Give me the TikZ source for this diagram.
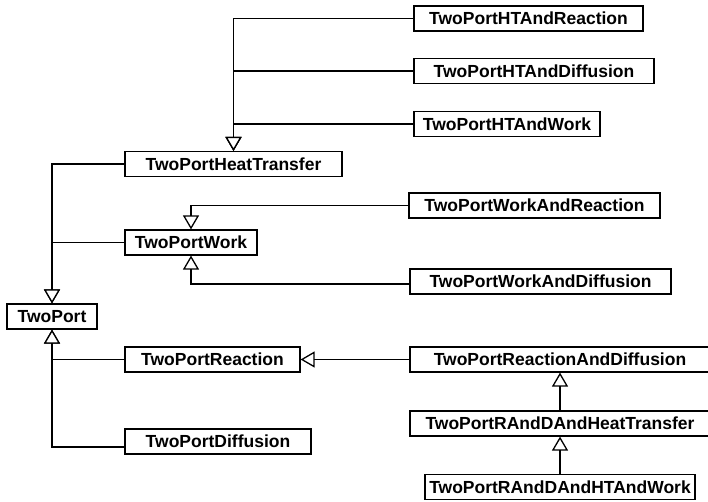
\documentclass[tikz,border=0pt]{standalone}
\usepackage{fontspec}
\setmainfont{Liberation Sans}
\usetikzlibrary{arrows.meta}

\begin{document}
\begin{tikzpicture}[x=1pt, y=-1pt,
		cls/.style={draw, line width=1.2pt, minimum height=25pt, inner sep=0pt,
			font=\bfseries\fontsize{17.5}{20}\selectfont},
		inh/.style={line width=1.3pt, -{Triangle[open, length=14pt, width=16pt, fill=white]}}]

		% page frame (pixels of the reference)
		\useasboundingbox (0,0) rectangle (708,502);

		% Classes at explicit coordinates
		\node[cls, minimum width=229pt] (HTReact)   at (528.5, 18.5) {TwoPortHTAndReaction};
		\node[cls, minimum width=240pt] (HTDiff)    at (534, 71)     {TwoPortHTAndDiffusion};
		\node[cls, minimum width=186pt] (HTWork)    at (507, 124)    {TwoPortHTAndWork};
		\node[cls, minimum width=217pt] (HeatTr)    at (233.5, 164)  {TwoPortHeatTransfer};
		\node[cls, minimum width=251pt] (WorkReact) at (534.5, 205.5) {TwoPortWorkAndReaction};
		\node[cls, minimum width=132pt] (Work)      at (191, 242.5)  {TwoPortWork};
		\node[cls, minimum width=261pt] (WorkDiff)  at (540.5, 281.5) {TwoPortWorkAndDiffusion};
		\node[cls, minimum width=90pt]  (TwoPort)   at (52, 316.5)   {TwoPort};
		\node[cls, minimum width=175pt] (Reaction)  at (212.5, 359.5) {TwoPortReaction};
		\node[cls, minimum width=300pt] (ReactDiff) at (560, 359.5)  {TwoPortReactionAndDiffusion};
		\node[cls, minimum width=300pt] (RDHeat)    at (560, 423.5)  {TwoPortRAndDAndHeatTransfer};
		\node[cls, minimum width=270pt] (RDHTWork)  at (560, 487)    {TwoPortRAndDAndHTAndWork};
		\node[cls, minimum width=186pt] (Diffusion) at (218, 441.5)  {TwoPortDiffusion};

		% Inheritance into TwoPortHeatTransfer
		\draw[inh] (HTReact.west) -| (HeatTr.north);
		\draw[inh] (HTDiff.west) -| (HeatTr.north);
		\draw[inh] (HTWork.west) -| (HeatTr.north);

		% Inheritance into TwoPortWork
		\draw[inh] (WorkReact.west) -| (Work.north);
		\draw[inh] ([yshift=-2.5pt]WorkDiff.west) -| (Work.south);

		% Inheritance into TwoPort
		\draw[inh] (HeatTr.west) -| (TwoPort.north);
		\draw[inh] (Work.west) -| (TwoPort.north);
		\draw[inh] (Reaction.west) -| (TwoPort.south);
		\draw[inh] ([yshift=-5.5pt]Diffusion.west) -| (TwoPort.south);

		% Reaction chain
		\draw[inh] (ReactDiff.west) -- (Reaction.east);
		\draw[inh] (RDHeat.north) -- (ReactDiff.south);
		\draw[inh] (RDHTWork.north) -- (RDHeat.south);

	\end{tikzpicture}
\end{document}
